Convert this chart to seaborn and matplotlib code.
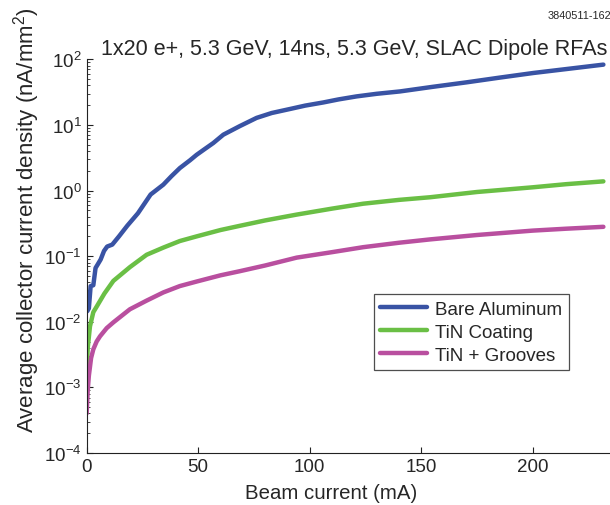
import matplotlib
matplotlib.use("Agg")
import matplotlib.pyplot as plt
import pandas as pd
import seaborn as sns

# series (beam current in mA, density in nA/mm^2)
bare_x = [0.3, 1.0, 1.8, 3.0, 4.0, 5.0, 6.3, 7.8, 9.2, 11.5, 14.5, 18.2, 23.0, 28.7,
          34.4, 38.0, 41.8, 46.4, 49.3, 53.0, 56.8, 61.3, 68.7, 76.2, 83.0, 91.2,
          98.0, 106.1, 113.0, 121.0, 130.0, 140.5, 155.0, 170.4, 185.0, 200.3,
          215.0, 231.7]
bare_y = [0.0145, 0.016, 0.035, 0.036, 0.066, 0.075, 0.089, 0.12, 0.14, 0.15, 0.2,
          0.29, 0.45, 0.87, 1.23, 1.65, 2.2, 2.9, 3.5, 4.3, 5.3, 7.1, 9.6, 12.8,
          15.2, 17.5, 19.7, 22.0, 24.5, 27.2, 29.8, 32.4, 38.0, 44.6, 52.5, 61.9,
          71.0, 83.0]

tin_x = [0.0, 0.5, 1.5, 3.0, 4.5, 8.0, 12.0, 19.4, 26.9, 34.4, 41.8, 49.3, 60.0,
         68.7, 80.0, 94.2, 110.0, 124.0, 140.0, 154.0, 175.0, 200.0, 215.0, 231.7]
tin_y = [0.0016, 0.004, 0.0085, 0.014, 0.017, 0.027, 0.042, 0.068, 0.105, 0.135,
         0.17, 0.2, 0.25, 0.29, 0.35, 0.43, 0.53, 0.63, 0.72, 0.79, 0.95, 1.12,
         1.25, 1.38]

groove_x = [0.0, 0.5, 1.0, 2.0, 3.0, 4.5, 6.0, 9.0, 12.0, 19.4, 26.9, 34.4, 41.8,
            49.3, 60.0, 68.7, 80.0, 94.2, 110.0, 124.0, 140.0, 154.0, 175.0,
            200.0, 215.0, 231.7]
groove_y = [0.0004, 0.0009, 0.0015, 0.0028, 0.0038, 0.005, 0.006, 0.008, 0.0098,
            0.0155, 0.021, 0.028, 0.035, 0.041, 0.051, 0.059, 0.072, 0.095, 0.115,
            0.137, 0.16, 0.18, 0.21, 0.245, 0.262, 0.28]

labels = ["Bare Aluminum", "TiN Coating", "TiN + Grooves"]
colors = ["#3953a4", "#6abf45", "#b94f9f"]
y_ticks = [1e-4, 1e-3, 1e-2, 1e-1, 1e0, 1e1, 1e2]
x_ticks = [0, 50, 100, 150, 200]

df = pd.concat([
    pd.DataFrame({"current": bare_x, "density": bare_y, "surface": labels[0]}),
    pd.DataFrame({"current": tin_x, "density": tin_y, "surface": labels[1]}),
    pd.DataFrame({"current": groove_x, "density": groove_y, "surface": labels[2]}),
])

sns.set_style("ticks")
plt.rcParams["font.family"] = ["Liberation Sans", "DejaVu Sans"]
plt.rcParams["mathtext.default"] = "regular"
plt.rcParams["xtick.direction"] = "in"
plt.rcParams["ytick.direction"] = "in"

fig = plt.figure(figsize=(6.1, 5.06), dpi=100)
ax = fig.add_axes([0.142, 0.1028, 0.8775, 0.778])

sns.lineplot(data=df, x="current", y="density", hue="surface", hue_order=labels,
             palette=dict(zip(labels, colors)), linewidth=3.2, sort=False,
             estimator=None, ax=ax)

ax.set_yscale("log")
ax.set_yticks(y_ticks)
ax.set_ylim(1e-4, 1e2)
ax.set_xticks(x_ticks)
ax.set_xlim(0, 240)
ax.tick_params(axis="both", labelsize=13.5, color="#222222", width=0.8)
ax.tick_params(axis="both", which="major", length=4)
ax.tick_params(axis="y", which="minor", length=2.5, width=0.6)
sns.despine(ax=ax)
for s in ["left", "bottom"]:
    ax.spines[s].set_linewidth(0.8)
    ax.spines[s].set_color("#222222")

ax.set_xlabel("Beam current (mA)", fontsize=14.7)
ax.set_ylabel("Average collector current density (nA/mm$^2$)", fontsize=16)
ax.xaxis.set_label_coords(0.456, -0.075)
ax.yaxis.set_label_coords(-0.083, 0.594)
ax.set_title("1x20 e+, 5.3 GeV, 14ns, 5.3 GeV, SLAC Dipole RFAs", fontsize=15.5, pad=3)

leg = ax.legend(loc="upper left", bbox_to_anchor=(0.613, 0.417),
                bbox_transform=fig.transFigure, fontsize=13.5, frameon=True,
                fancybox=False, edgecolor="#222222", handlelength=2.5,
                borderpad=0.35, labelspacing=0.32, handletextpad=0.4,
                borderaxespad=0)
leg.get_frame().set_linewidth(0.9)

fig.text(0.898, 0.9625, "3840511-162", fontsize=7.8)

fig.savefig("out.png", dpi=100)
